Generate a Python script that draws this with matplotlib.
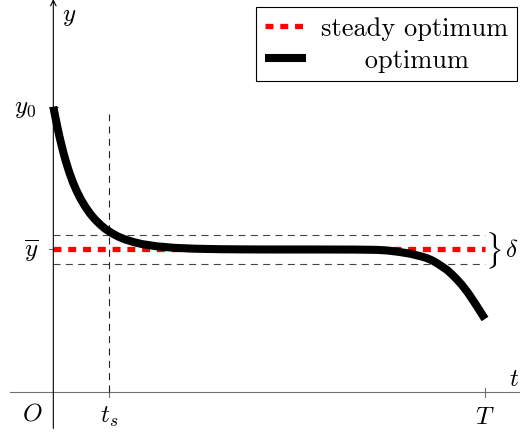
import matplotlib.pyplot as plt

plt.rcParams['mathtext.fontset'] = 'cm'

# optimum trajectory, points
t_opt = [0.0, 0.045, 0.09, 0.135, 0.18, 0.235, 0.29, 0.37, 0.45, 0.54, 0.64, 0.74,
         0.85, 0.96, 1.09, 1.2, 1.35, 1.5, 1.66, 1.85, 2.05, 2.4, 2.82, 3.3,
         3.86, 4.4, 5.0, 6.0, 7.0, 7.5, 7.75, 8.0, 8.25, 8.5, 8.65, 8.8, 8.96,
         9.12, 9.23, 9.34, 9.46, 9.58, 9.65, 9.73, 9.8, 9.88, 9.94, 10.0]
y_opt = [3.0, 2.895, 2.795, 2.70, 2.615, 2.515, 2.425, 2.31, 2.21, 2.115, 2.025, 1.95,
         1.878, 1.818, 1.76, 1.718, 1.673, 1.636, 1.606, 1.579, 1.557, 1.533, 1.517, 1.508,
         1.503, 1.501, 1.5, 1.5, 1.499, 1.496, 1.489, 1.475, 1.457, 1.43, 1.41, 1.38, 1.335,
         1.285, 1.24, 1.19, 1.13, 1.06, 1.015, 0.96, 0.912, 0.855, 0.812, 0.77]

T = 10.0
t_s = 1.3
y0 = 3.0
y_bar = 1.5
delta = 0.15

fig = plt.figure(figsize=(5.2, 4.35), dpi=100)
ax = fig.add_axes([0, 0, 1, 1])
ax.set_xlim(-1.235, 10.81)
ax.set_ylim(-0.438, 4.131)
ax.axis('off')

gray = '#707070'

# axes
ax.plot([-1.0, 10.81], [0, 0], color=gray, lw=0.8)
ax.annotate('', xy=(0, 4.13), xytext=(0, -0.38),
            arrowprops=dict(arrowstyle='->', lw=0.8, color='black',
                            shrinkA=0, shrinkB=0))

# ticks
ax.plot([-0.1, 0.1], [y0, y0], color=gray, lw=0.8)
ax.plot([-0.1, 0.1], [y_bar, y_bar], color=gray, lw=0.8)
ax.plot([t_s, t_s], [-0.05, 0.05], color=gray, lw=0.8)
ax.plot([T, T], [-0.05, 0.05], color=gray, lw=0.8)

# delta band and t_s marker
ax.plot([0, T], [y_bar + delta, y_bar + delta], color='#444444', lw=0.8, dashes=(6.3, 4.8))
ax.plot([0, T], [y_bar - delta, y_bar - delta], color='#444444', lw=0.8, dashes=(6.3, 4.8))
ax.plot([t_s, t_s], [0, 2.92], color='#222222', lw=0.8, dashes=(6.3, 4.8))

steady, = ax.plot([0, T], [y_bar, y_bar], color='red', lw=3.8, dashes=(1.5, 1.3))
opt, = ax.plot(t_opt, y_opt, color='black', lw=5.8,
               solid_capstyle='butt', solid_joinstyle='round')

# labels
fs = 18
ax.text(0.36, 3.96, r'$y$', fontsize=fs, ha='center', va='center')
ax.text(10.68, 0.155, r'$t$', fontsize=fs, ha='center', va='center')
ax.text(-0.48, -0.21, r'$O$', fontsize=fs, ha='center', va='center')
ax.text(t_s, -0.25, r'$t_s$', fontsize=fs, ha='center', va='center')
ax.text(T, -0.245, r'$T$', fontsize=fs, ha='center', va='center')
ax.text(-0.4, y0, r'$y_0$', fontsize=fs, ha='right', va='center')
ax.text(-0.355, y_bar, r'$\overline{y}$', fontsize=fs, ha='right', va='center')
ax.text(10.19, y_bar, r'$\}$', fontsize=22, ha='center', va='center')
ax.text(10.61, y_bar, r'$\delta$', fontsize=fs, ha='center', va='center')

leg = ax.legend([steady, opt], ['steady optimum', '     optimum'],
                loc='upper right', bbox_to_anchor=(0.994, 0.981), borderaxespad=0,
                prop={'family': 'cmr10', 'size': 19}, fancybox=False,
                edgecolor='black', framealpha=1, handlelength=1.55,
                handletextpad=0.55, borderpad=0.35, labelspacing=0.3)
leg.get_frame().set_linewidth(0.8)

fig.savefig('out.png', dpi=100)
